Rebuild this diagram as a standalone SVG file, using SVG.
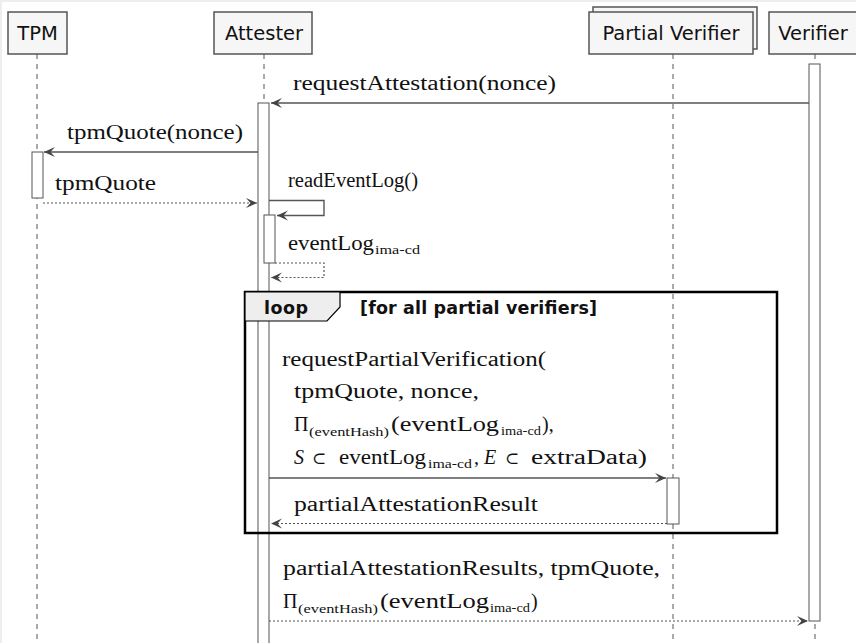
<svg xmlns="http://www.w3.org/2000/svg" width="856" height="643" viewBox="0 0 856 643">
  <style>
    .pbox { fill: #f6f6f6; stroke: #555; stroke-width: 1.5; }
    .plabel { font-family: "DejaVu Sans", "Noto Sans", sans-serif; font-size: 19.5px; fill: #111; text-anchor: middle; }
    .life { stroke: #555; stroke-width: 1; stroke-dasharray: 5 5; fill: none; }
    .bar { fill: #fff; stroke: #555; stroke-width: 1; }
    .msg { stroke: #555; stroke-width: 1.4; fill: none; }
    .ret { stroke: #555; stroke-width: 1.2; fill: none; stroke-dasharray: 2 2; }
    .m { font-family: "Liberation Serif", "DejaVu Serif", serif; font-size: 20px; fill: #111; }
    .sub { font-size: 12.5px; }
    .it { font-style: italic; }
    .sym { font-family: "DejaVu Serif", "Liberation Serif", serif; font-size: 17px; }
    .frame { fill: none; stroke: #000; stroke-width: 2.5; }
    .tab { fill: #eee; stroke: #000; stroke-width: 1.2; }
    .ftext { font-family: "DejaVu Sans", "Noto Sans", sans-serif; font-weight: bold; font-size: 17.5px; fill: #111; }
  </style>
  <defs>
    <marker id="ah" viewBox="-11 -6 12 12" refX="0" refY="0" markerWidth="12" markerHeight="12" markerUnits="userSpaceOnUse" orient="auto">
      <path d="M0,0 L-11,-5 L-6.5,0 L-11,5 Z" fill="#444"/>
    </marker>
  </defs>

  <rect x="0" y="0" width="856" height="643" fill="#fff"/>
  <rect x="0" y="0" width="856" height="2" fill="#eee"/>
  <rect x="0" y="0" width="2" height="643" fill="#eee"/>

  <!-- lifelines -->
  <g id="lifelines">
    <line class="life" x1="37" y1="54" x2="37" y2="643"/>
    <line class="life" x1="264" y1="54" x2="264" y2="643"/>
    <line class="life" x1="673" y1="54" x2="673" y2="643"/>
    <line class="life" x1="815" y1="54" x2="815" y2="643"/>
  </g>

  <!-- participants -->
  <g id="tpm">
    <rect class="pbox" x="8" y="12" width="59" height="42"/>
    <text class="plabel" x="37.5" y="40">TPM</text>
  </g>
  <g id="attester">
    <rect class="pbox" x="214" y="12" width="98" height="42"/>
    <text class="plabel" x="264" y="40">Attester</text>
  </g>
  <g id="partial-verifier">
    <rect class="pbox" x="593" y="7" width="164" height="42"/>
    <rect class="pbox" x="589" y="12" width="164" height="42"/>
    <text class="plabel" x="671" y="40">Partial Verifier</text>
  </g>
  <g id="verifier">
    <rect class="pbox" x="769" y="12" width="92" height="42"/>
    <text class="plabel" x="813" y="40">Verifier</text>
  </g>

  <!-- activation bars -->
  <g id="activations">
    <rect class="bar" x="809" y="64" width="11" height="557"/>
    <rect class="bar" x="258" y="103" width="11" height="545"/>
    <rect class="bar" x="32" y="152" width="11" height="46"/>
    <rect class="bar" x="264" y="215" width="11" height="48"/>
    <rect class="bar" x="667" y="478" width="12" height="46"/>
  </g>

  <!-- loop fragment -->
  <g id="loop">
    <rect class="frame" x="245" y="292" width="532" height="241"/>
    <path class="tab" d="M245,292 H340 V307 L327,321 H245 Z"/>
    <text class="ftext" x="264" y="314" textLength="44" lengthAdjust="spacing">loop</text>
    <text class="ftext" x="360" y="314" textLength="237" lengthAdjust="spacing">[for all partial verifiers]</text>
  </g>

  <!-- messages -->
  <g id="connectors">
    <path class="msg" d="M809,103 H271" marker-end="url(#ah)"/>
    <path class="msg" d="M258,152 H44" marker-end="url(#ah)"/>
    <path class="ret" d="M43,203 H257" marker-end="url(#ah)"/>
    <path class="msg" d="M269,200.5 H324 V215.5 H277" marker-end="url(#ah)"/>
    <path class="ret" d="M275,263 H324 V277.5 H271" marker-end="url(#ah)"/>
    <path class="msg" d="M269,478 H666" marker-end="url(#ah)"/>
    <path class="ret" d="M667,523.5 H271" marker-end="url(#ah)"/>
    <path class="ret" d="M269,621 H808" marker-end="url(#ah)"/>
  </g>

  <!-- message labels -->
  <g id="labels" class="m">
    <text x="293" y="90" textLength="263" lengthAdjust="spacingAndGlyphs">requestAttestation(nonce)</text>
    <text x="67" y="139" textLength="176" lengthAdjust="spacingAndGlyphs">tpmQuote(nonce)</text>
    <text x="55" y="190" textLength="101" lengthAdjust="spacingAndGlyphs">tpmQuote</text>
    <text x="288" y="187" textLength="130" lengthAdjust="spacingAndGlyphs">readEventLog()</text>
    <text x="288" y="250" textLength="86" lengthAdjust="spacingAndGlyphs">eventLog</text>
    <text class="sub" x="375" y="254" textLength="45" lengthAdjust="spacingAndGlyphs">ima-cd</text>

    <text x="282" y="366" textLength="264" lengthAdjust="spacingAndGlyphs">requestPartialVerification(</text>
    <text x="294" y="398" textLength="185" lengthAdjust="spacingAndGlyphs">tpmQuote, nonce,</text>
    <text x="294" y="431">Π</text>
    <text class="sub" x="309" y="436" textLength="80" lengthAdjust="spacingAndGlyphs">(eventHash)</text>
    <text x="391" y="431" textLength="108" lengthAdjust="spacingAndGlyphs">(eventLog</text>
    <text class="sub" x="501" y="435" textLength="40" lengthAdjust="spacingAndGlyphs">ima-cd</text>
    <text x="542" y="431">),</text>
    <text class="it" x="294" y="464">S</text>
    <text class="sym" x="312" y="464">⊂</text>
    <text x="339" y="464" textLength="87" lengthAdjust="spacingAndGlyphs">eventLog</text>
    <text class="sub" x="428" y="468" textLength="44" lengthAdjust="spacingAndGlyphs">ima-cd</text>
    <text x="474" y="464">,</text>
    <text class="it" x="484" y="464">E</text>
    <text class="sym" x="505" y="464">⊂</text>
    <text x="531" y="464" textLength="116" lengthAdjust="spacingAndGlyphs">extraData)</text>
    <text x="294" y="511" textLength="244" lengthAdjust="spacingAndGlyphs">partialAttestationResult</text>

    <text x="283" y="575" textLength="377" lengthAdjust="spacingAndGlyphs">partialAttestationResults, tpmQuote,</text>
    <text x="283" y="608">Π</text>
    <text class="sub" x="298" y="613" textLength="80" lengthAdjust="spacingAndGlyphs">(eventHash)</text>
    <text x="380" y="608" textLength="109" lengthAdjust="spacingAndGlyphs">(eventLog</text>
    <text class="sub" x="490" y="612" textLength="40" lengthAdjust="spacingAndGlyphs">ima-cd</text>
    <text x="531" y="608">)</text>
  </g>
</svg>
